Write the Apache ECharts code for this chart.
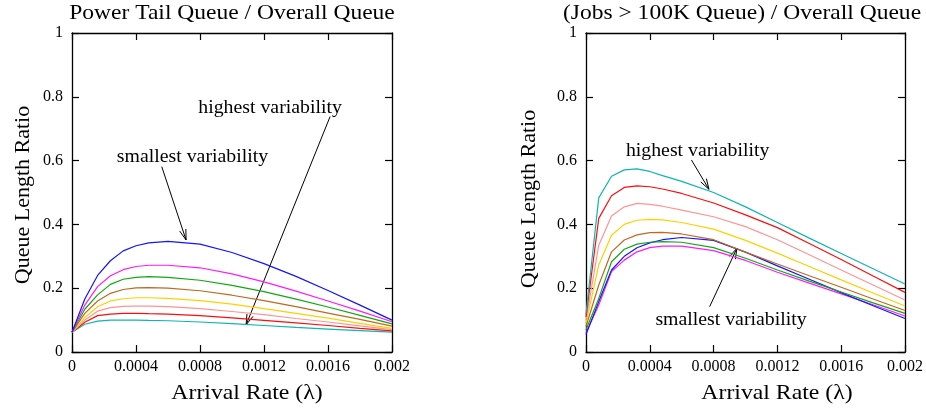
<!DOCTYPE html>
<html>
<head>
<meta charset="utf-8">
<script src="https://cdn.jsdelivr.net/npm/echarts@6/dist/echarts.min.js"></script>
<style>
  html, body { margin: 0; padding: 0; background: #fff; }
  #chart { width: 926px; height: 412px; }
</style>
</head>
<body>
<div id="chart"></div>
<script>
// Arrival rates (λ) at which queue length ratios were computed
const arrivalRate = [0, 0.00008, 0.00016, 0.00024, 0.00032, 0.0004, 0.00048, 0.0006,
                     0.0008, 0.001, 0.0012, 0.0014, 0.0016, 0.0018, 0.002];

// Power tail queue / overall queue, one curve per variability level
const tailBlue    = [0.062, 0.166, 0.240, 0.286, 0.317, 0.333, 0.342, 0.347, 0.338, 0.312, 0.277, 0.237, 0.193, 0.147, 0.100];
const tailMagenta = [0.062, 0.147, 0.205, 0.239, 0.258, 0.268, 0.272, 0.272, 0.264, 0.245, 0.220, 0.191, 0.160, 0.128, 0.095];
const tailGreen   = [0.062, 0.134, 0.179, 0.212, 0.228, 0.234, 0.236, 0.234, 0.225, 0.209, 0.189, 0.166, 0.141, 0.115, 0.088];
const tailBrown   = [0.062, 0.121, 0.160, 0.184, 0.196, 0.201, 0.202, 0.200, 0.192, 0.178, 0.161, 0.142, 0.122, 0.102, 0.081];
const tailYellow  = [0.062, 0.108, 0.142, 0.160, 0.167, 0.170, 0.170, 0.168, 0.161, 0.150, 0.136, 0.121, 0.106, 0.090, 0.074];
const tailPink    = [0.062, 0.100, 0.128, 0.139, 0.143, 0.144, 0.144, 0.142, 0.136, 0.127, 0.117, 0.105, 0.094, 0.082, 0.070];
const tailRed     = [0.062, 0.093, 0.114, 0.119, 0.121, 0.121, 0.120, 0.119, 0.114, 0.107, 0.099, 0.091, 0.083, 0.074, 0.066];
const tailCyan    = [0.062, 0.087, 0.097, 0.100, 0.100, 0.100, 0.099, 0.098, 0.094, 0.089, 0.083, 0.077, 0.072, 0.067, 0.062];

// (Jobs > 100K queue) / overall queue
const bigCyan    = [0.120, 0.483, 0.551, 0.571, 0.574, 0.566, 0.553, 0.535, 0.500, 0.455, 0.406, 0.357, 0.309, 0.261, 0.213];
const bigRed     = [0.110, 0.419, 0.490, 0.516, 0.521, 0.518, 0.511, 0.497, 0.467, 0.430, 0.390, 0.340, 0.290, 0.238, 0.187];
const bigPink    = [0.100, 0.335, 0.426, 0.455, 0.466, 0.463, 0.457, 0.445, 0.424, 0.393, 0.352, 0.305, 0.257, 0.210, 0.163];
const bigYellow  = [0.090, 0.273, 0.366, 0.400, 0.413, 0.416, 0.414, 0.406, 0.385, 0.350, 0.310, 0.268, 0.226, 0.185, 0.144];
const bigBrown   = [0.080, 0.210, 0.314, 0.351, 0.367, 0.374, 0.375, 0.370, 0.352, 0.313, 0.276, 0.239, 0.203, 0.166, 0.130];
const bigGreen   = [0.070, 0.168, 0.283, 0.322, 0.338, 0.344, 0.346, 0.344, 0.327, 0.294, 0.257, 0.222, 0.188, 0.154, 0.121];
const bigBlue    = [0.055, 0.158, 0.257, 0.300, 0.327, 0.342, 0.352, 0.359, 0.350, 0.313, 0.270, 0.228, 0.186, 0.145, 0.105];
const bigMagenta = [0.060, 0.147, 0.252, 0.288, 0.314, 0.327, 0.332, 0.332, 0.318, 0.287, 0.250, 0.216, 0.182, 0.148, 0.113];

const xTicks = [0, 0.0004, 0.0008, 0.0012, 0.0016, 0.002];
const yTicks = [0, 0.2, 0.4, 0.6, 0.8, 1];

const COLORS = {
  blue: '#1414ff', magenta: '#ff1aff', green: '#12a812', brown: '#bf6a1e',
  yellow: '#ffd000', pink: '#ff9494', red: '#ff0d0d', cyan: '#0fb4b4'
};

const SERIF = '"Liberation Serif", "DejaVu Serif", serif';

const chart = echarts.init(document.getElementById('chart'));

const grids = [
  { left: 72, top: 33, width: 320, height: 319 },
  { left: 586, top: 33, width: 320, height: 319 }
];

function fmtX(v) { return String(parseFloat(v.toFixed(4))); }
function fmtY(v) { return String(parseFloat(v.toFixed(1))); }

function xAxes(gi) {
  const common = {
    type: 'value', gridIndex: gi, min: xTicks[0], max: xTicks[xTicks.length - 1],
    interval: xTicks[1] - xTicks[0],
    axisLine: { show: true, onZero: false, lineStyle: { color: '#000', width: 1.3 } },
    axisTick: { show: true, inside: true, length: 7, lineStyle: { color: '#000', width: 1.2 } },
    splitLine: { show: false }
  };
  return [
    Object.assign({}, common, {
      position: 'bottom',
      axisLabel: { color: '#000', fontFamily: SERIF, fontSize: 16, margin: 7, formatter: fmtX }
    }),
    Object.assign({}, common, { position: 'top', axisLabel: { show: false } })
  ];
}

function yAxes(gi) {
  const common = {
    type: 'value', gridIndex: gi, min: yTicks[0], max: yTicks[yTicks.length - 1],
    interval: yTicks[1] - yTicks[0],
    axisLine: { show: true, onZero: false, lineStyle: { color: '#000', width: 1.3 } },
    axisTick: { show: true, inside: true, length: 7, lineStyle: { color: '#000', width: 1.2 } },
    splitLine: { show: false }
  };
  return [
    Object.assign({}, common, {
      position: 'left',
      axisLabel: { color: '#000', fontFamily: SERIF, fontSize: 16, margin: 9, formatter: fmtY }
    }),
    Object.assign({}, common, { position: 'right', axisLabel: { show: false } })
  ];
}

function line(name, values, color, gi) {
  return {
    name: name, type: 'line', xAxisIndex: gi * 2, yAxisIndex: gi * 2,
    data: arrivalRate.map((x, i) => [x, values[i]]),
    showSymbol: false, symbol: 'none', smooth: false,
    lineStyle: { color: color, width: 1.2 }, itemStyle: { color: color },
    animation: false, silent: true
  };
}

const series = [
  line('tailCyan', tailCyan, COLORS.cyan, 0),
  line('tailRed', tailRed, COLORS.red, 0),
  line('tailPink', tailPink, COLORS.pink, 0),
  line('tailYellow', tailYellow, COLORS.yellow, 0),
  line('tailBrown', tailBrown, COLORS.brown, 0),
  line('tailGreen', tailGreen, COLORS.green, 0),
  line('tailMagenta', tailMagenta, COLORS.magenta, 0),
  line('tailBlue', tailBlue, COLORS.blue, 0),
  line('bigMagenta', bigMagenta, COLORS.magenta, 1),
  line('bigBlue', bigBlue, COLORS.blue, 1),
  line('bigGreen', bigGreen, COLORS.green, 1),
  line('bigBrown', bigBrown, COLORS.brown, 1),
  line('bigYellow', bigYellow, COLORS.yellow, 1),
  line('bigPink', bigPink, COLORS.pink, 1),
  line('bigRed', bigRed, COLORS.red, 1),
  line('bigCyan', bigCyan, COLORS.cyan, 1)
];

chart.setOption({
  backgroundColor: '#fff',
  animation: false,
  grid: grids,
  xAxis: xAxes(0).concat(xAxes(1)),
  yAxis: yAxes(0).concat(yAxes(1)),
  series: series
});

// Annotations: text anchors and arrows in data coordinates
const notes = [
  { grid: 0, text: 'highest variability', at: [0.001238, 0.763], from: [0.001613, 0.738], to: [0.001088, 0.085] },
  { grid: 0, text: 'smallest variability', at: [0.000753, 0.612], from: [0.000561, 0.581], to: [0.000713, 0.351] },
  { grid: 1, text: 'highest variability', at: [0.000700, 0.630], from: [0.000661, 0.602], to: [0.000771, 0.510] },
  { grid: 1, text: 'smallest variability', at: [0.000909, 0.100], from: [0.000775, 0.142], to: [0.000946, 0.325] }
];

const graphics = [];
function label(text, x, y, size, sx, rot) {
  return {
    type: 'text', x: x, y: y, rotation: rot || 0, scaleX: sx || 1, silent: true,
    style: { text: text, fill: '#000', font: size + 'px ' + SERIF, align: 'center', verticalAlign: 'middle' }
  };
}

notes.forEach(n => {
  const p = chart.convertToPixel({ gridIndex: n.grid }, n.at);
  const a = chart.convertToPixel({ gridIndex: n.grid }, n.from);
  const b = chart.convertToPixel({ gridIndex: n.grid }, n.to);
  graphics.push(label(n.text, p[0], p[1], 18, 1.1));
  graphics.push({ type: 'line', shape: { x1: a[0], y1: a[1], x2: b[0], y2: b[1] },
                  style: { stroke: '#000', lineWidth: 1 }, silent: true });
  const ang = Math.atan2(b[1] - a[1], b[0] - a[0]);
  const L = 11, spread = 0.3;
  graphics.push({ type: 'polyline', silent: true,
    shape: { points: [
      [b[0] - L * Math.cos(ang - spread), b[1] - L * Math.sin(ang - spread)],
      [b[0], b[1]],
      [b[0] - L * Math.cos(ang + spread), b[1] - L * Math.sin(ang + spread)]
    ] },
    style: { stroke: '#000', fill: null, lineWidth: 1 } });
});

// Titles and axis names
graphics.push(label('Power Tail Queue / Overall Queue', 232, 13, 21, 1.12));
graphics.push(label('(Jobs > 100K Queue) / Overall Queue', 742, 13, 21, 1.12));
graphics.push(label('Arrival Rate (\u03bb)', 247, 393, 22, 1.08));
graphics.push(label('Arrival Rate (\u03bb)', 777, 393, 22, 1.08));
graphics.push(label('Queue Length Ratio', 23, 195, 22, 1.0, Math.PI / 2));
graphics.push(label('Queue Length Ratio', 529, 199, 22, 1.0, Math.PI / 2));

chart.setOption({ graphic: graphics });
</script>
</body>
</html>
